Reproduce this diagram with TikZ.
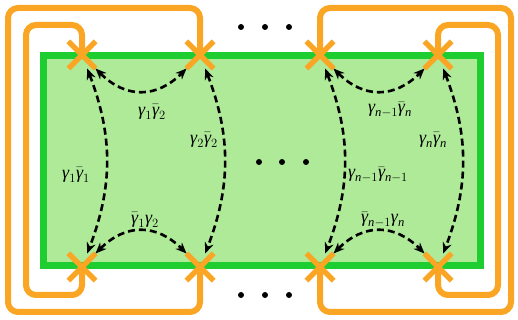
\RequirePackage{fix-cm}
\documentclass[tikz,border=0pt]{standalone}
\usepackage{fontspec}
\setmainfont{Liberation Serif}
\usetikzlibrary{%
	arrows.meta,%
	shapes.misc,%
	positioning,%
}
\tikzset{
	>={Stealth[length=11pt,width=9pt,inset=3.5pt]},%
	board/.style={%
			draw=cgreen,%
			fill=cgreenlight,%
			line width=7pt},%
	crossnode/.style={%
			cross out,%
			draw=corange,%
			line width=5pt,%
			minimum size=22pt,%
			inner sep=0},%
	wire/.style={%
			draw=corange,%
			line width=6pt,%
			rounded corners=10pt},%
	pairing/.style={%
			<->,%
			line width=2.6pt,%
			dash pattern=on 7pt off 4pt},%
	dotnode/.style={%
			circle,%
			fill=black,%
			inner sep=0,%
			minimum size=6pt},%
	labelnode/.style={%
			inner sep=1pt,%
			font={\fontsize{18}{20}\selectfont}},%
}
\definecolor{cgreen}{RGB}{30, 206, 48}
\definecolor{cgreenlight}{RGB}{174, 234, 152}
\definecolor{corange}{RGB}{250, 166, 36}
\newcommand{\gam}{\hbox{\itshape γ}}
\newcommand{\gbar}{\bar{\hbox{\itshape γ}}}
\newcommand{\nm}{\mathit{n}-1}

\begin{document}
\begin{tikzpicture}[x=1pt, y=1pt]%
	\useasboundingbox (0,0) rectangle (518,320);

	\draw[board] (43.5,54) rectangle (480,264.5);

	\node[crossnode] (t1) at (82,265) {};
	\node[crossnode] (t2) at (200,265) {};
	\node[crossnode] (t3) at (320,265) {};
	\node[crossnode] (t4) at (438,265) {};
	\node[crossnode] (b1) at (82,53) {};
	\node[crossnode] (b2) at (200,53) {};
	\node[crossnode] (b3) at (320,53) {};
	\node[crossnode] (b4) at (438,53) {};

	\draw[wire] (t1.center) -- ++(0,30) -- ++(-56,0) -- ++(0,-270) -- ++(56,0) -- (b1.center);
	\draw[wire] (t2.center) -- ++(0,47) -- ++(-192,0) -- ++(0,-304) -- ++(192,0) -- (b2.center);
	\draw[wire] (t3.center) -- ++(0,47) -- ++(191,0) -- ++(0,-304) -- ++(-191,0) -- (b3.center);
	\draw[wire] (t4.center) -- ++(0,30) -- ++(60,0) -- ++(0,-270) -- ++(-60,0) -- (b4.center);

	\foreach \n in {t1,t2,t3,t4,b1,b2,b3,b4}
	\node[crossnode] at (\n) {};

	\draw[pairing] (t1) to[out=-45, in=-135, looseness=1.2] (t2);
	\draw[pairing] (b1) to[out=45, in=135, looseness=1.2] (b2);
	\draw[pairing] (t1) to[bend left=21] (b1);
	\draw[pairing] (t2) to[bend left=21] (b2);
	\draw[pairing] (t3) to[out=-45, in=-135, looseness=1.2] (t4);
	\draw[pairing] (b3) to[out=45, in=135, looseness=1.2] (b4);
	\draw[pairing] (t3) to[bend left=21] (b3);
	\draw[pairing] (t4) to[bend left=21] (b4);

	\node[labelnode] (l12) at (152,208) {$\gam_1\gbar_2$};
	\node[labelnode] (m12) at (145,100) {$\gbar_1\gam_2$};
	\node[labelnode] (l11) at (76,145) {$\gam_1\gbar_1$};
	\node[labelnode] (l22) at (204,180) {$\gam_2\gbar_2$};
	\node[labelnode] (lmn) at (390,210) {$\gam_{\nm}\gbar_{\mathit{n}}$};
	\node[labelnode] (mmn) at (383,100) {$\gbar_{\nm}\gam_{\mathit{n}}$};
	\node[labelnode] (lmm) at (378,145) {$\gam_{\nm}\gbar_{\nm}$};
	\node[labelnode] (lnn) at (433,180) {$\gam_{\mathit{n}}\gbar_{\mathit{n}}$};

	\foreach \i/\x in {1/241,2/265,3/289}
	\node[dotnode] (up\i) at (\x,293) {};
	\foreach \i/\x in {1/241,2/265,3/289}
	\node[dotnode] (dn\i) at (\x,25) {};
	\foreach \i/\x in {1/259,2/282,3/306}
	\node[dotnode] (mid\i) at (\x,158) {};
\end{tikzpicture}
\end{document}
